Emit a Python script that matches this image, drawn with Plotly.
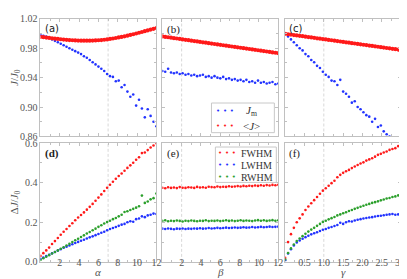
import plotly.graph_objects as go

# ---------------- data ----------------
alpha = [0.0, 0.3, 0.6, 0.9, 1.2, 1.5, 1.8, 2.1, 2.4, 2.7, 3.0, 3.3, 3.6, 3.9, 4.2, 4.5, 4.8, 5.1, 5.4, 5.7,
         6.0, 6.3, 6.6, 6.9, 7.2, 7.5, 7.8, 8.1, 8.4, 8.7, 9.0, 9.3, 9.6, 9.9, 10.2, 10.5, 10.8, 11.1, 11.4, 11.7, 12.0]
beta = [0.0, 0.3, 0.6, 0.9, 1.2, 1.5, 1.8, 2.1, 2.4, 2.7, 3.0, 3.3, 3.6, 3.9, 4.2, 4.5, 4.8, 5.1, 5.4, 5.7,
        6.0, 6.3, 6.6, 6.9, 7.2, 7.5, 7.8, 8.1, 8.4, 8.7, 9.0, 9.3, 9.6, 9.9, 10.2, 10.5, 10.8, 11.1, 11.4, 11.7, 12.0]
gamma = [0.0, 0.075, 0.15, 0.225, 0.3, 0.375, 0.45, 0.525, 0.6, 0.675, 0.75, 0.825, 0.9, 0.975, 1.05, 1.125,
         1.2, 1.275, 1.35, 1.425, 1.5, 1.575, 1.65, 1.725, 1.8, 1.875, 1.95, 2.025, 2.1, 2.175, 2.25, 2.325,
         2.4, 2.475, 2.55, 2.625, 2.7, 2.775, 2.85, 2.925, 3.0]

# (a)
jm_alpha = [0.998, 0.997, 0.996, 0.994, 0.992, 0.990, 0.988, 0.986, 0.984, 0.982, 0.980, 0.978, 0.976, 0.974,
            0.972, 0.969, 0.967, 0.964, 0.961, 0.958, 0.955, 0.952, 0.949, 0.945, 0.942, 0.941, 0.935, 0.936,
            0.927, 0.930, 0.921, 0.914, 0.917, 0.902, 0.910, 0.898, 0.886, 0.897, 0.888, 0.880, 0.874]
jmean_alpha = [0.9955, 0.9950, 0.9945, 0.9940, 0.9935, 0.9930, 0.9926, 0.9922, 0.9918, 0.9914, 0.9911, 0.9908,
               0.9906, 0.9904, 0.9903, 0.9902, 0.9902, 0.9903, 0.9904, 0.9906, 0.9908, 0.9911, 0.9915, 0.9920,
               0.9926, 0.9932, 0.9939, 0.9946, 0.9954, 0.9962, 0.9971, 0.9980, 0.9990, 1.0000, 1.0010, 1.0020,
               1.0031, 1.0042, 1.0053, 1.0064, 1.0075]
# (b)
jm_beta = [0.949, 0.948, 0.952, 0.947, 0.946, 0.947, 0.945, 0.946, 0.944, 0.945, 0.943, 0.944, 0.942, 0.943,
           0.944, 0.941, 0.942, 0.940, 0.942, 0.940, 0.939, 0.941, 0.938, 0.939, 0.937, 0.938, 0.936, 0.937,
           0.935, 0.937, 0.934, 0.935, 0.933, 0.936, 0.933, 0.934, 0.932, 0.933, 0.934, 0.931, 0.932]
jmean_beta = [0.9960, 0.9954, 0.9949, 0.9943, 0.9937, 0.9932, 0.9926, 0.9920, 0.9914, 0.9909, 0.9903, 0.9897,
              0.9892, 0.9886, 0.9880, 0.9875, 0.9869, 0.9863, 0.9857, 0.9852, 0.9846, 0.9840, 0.9835, 0.9829,
              0.9823, 0.9818, 0.9812, 0.9806, 0.9800, 0.9795, 0.9789, 0.9783, 0.9778, 0.9772, 0.9766, 0.9761,
              0.9755, 0.9749, 0.9743, 0.9738, 0.9732]
# (c)
jm_gamma = [1.000, 0.996, 0.992, 0.988, 0.984, 0.980, 0.977, 0.972, 0.969, 0.964, 0.961, 0.956, 0.953, 0.948,
            0.944, 0.941, 0.936, 0.935, 0.930, 0.937, 0.921, 0.918, 0.914, 0.906, 0.908, 0.900, 0.897, 0.893,
            0.889, 0.887, 0.880, 0.884, 0.873, 0.875, 0.867, 0.863, 0.860, 0.855, 0.852, 0.847, 0.843]
jmean_gamma = [0.9996, 0.9990, 0.9985, 0.9979, 0.9974, 0.9968, 0.9963, 0.9957, 0.9952, 0.9946, 0.9941, 0.9935,
               0.9930, 0.9924, 0.9919, 0.9913, 0.9908, 0.9902, 0.9897, 0.9891, 0.9886, 0.9880, 0.9875, 0.9869,
               0.9864, 0.9858, 0.9853, 0.9847, 0.9842, 0.9836, 0.9831, 0.9825, 0.9820, 0.9814, 0.9809, 0.9803,
               0.9798, 0.9792, 0.9787, 0.9781, 0.9776]
# (d)
fwhm_alpha = [0.030, 0.044, 0.058, 0.072, 0.090, 0.105, 0.121, 0.137, 0.152, 0.166, 0.181, 0.195, 0.210, 0.224,
              0.237, 0.250, 0.264, 0.278, 0.293, 0.309, 0.325, 0.341, 0.358, 0.375, 0.390, 0.405, 0.420, 0.434,
              0.447, 0.461, 0.475, 0.488, 0.501, 0.516, 0.529, 0.550, 0.553, 0.565, 0.578, 0.588, 0.600]
lwhm_alpha = [0.015, 0.022, 0.029, 0.036, 0.043, 0.050, 0.057, 0.064, 0.071, 0.077, 0.083, 0.089, 0.095, 0.101,
              0.107, 0.112, 0.118, 0.124, 0.129, 0.135, 0.141, 0.147, 0.152, 0.160, 0.166, 0.171, 0.176, 0.182,
              0.188, 0.192, 0.200, 0.205, 0.203, 0.216, 0.219, 0.230, 0.226, 0.235, 0.238, 0.244, 0.242]
rwhm_alpha = [0.010, 0.018, 0.026, 0.034, 0.042, 0.050, 0.058, 0.066, 0.074, 0.083, 0.091, 0.100, 0.109, 0.117,
              0.126, 0.134, 0.143, 0.151, 0.160, 0.168, 0.177, 0.185, 0.194, 0.201, 0.208, 0.216, 0.222, 0.230,
              0.238, 0.252, 0.256, 0.262, 0.268, 0.274, 0.281, 0.335, 0.298, 0.305, 0.316, 0.322, 0.345]
# (e)
fwhm_beta = [0.375, 0.372, 0.377, 0.374, 0.376, 0.373, 0.378, 0.375, 0.374, 0.377, 0.376, 0.374, 0.379, 0.376,
             0.377, 0.375, 0.380, 0.378, 0.377, 0.381, 0.378, 0.380, 0.379, 0.382, 0.380, 0.381, 0.383, 0.381,
             0.384, 0.382, 0.385, 0.383, 0.386, 0.384, 0.387, 0.385, 0.388, 0.386, 0.389, 0.387, 0.390]
lwhm_beta = [0.168, 0.166, 0.169, 0.167, 0.165, 0.168, 0.167, 0.169, 0.166, 0.168, 0.167, 0.169, 0.168, 0.170,
             0.168, 0.169, 0.171, 0.169, 0.170, 0.172, 0.170, 0.171, 0.173, 0.171, 0.172, 0.174, 0.172, 0.173,
             0.175, 0.173, 0.174, 0.176, 0.174, 0.175, 0.177, 0.175, 0.176, 0.178, 0.176, 0.177, 0.178]
rwhm_beta = [0.207, 0.210, 0.205, 0.208, 0.206, 0.209, 0.207, 0.204, 0.208, 0.206, 0.209, 0.207, 0.205, 0.208,
             0.207, 0.210, 0.206, 0.208, 0.207, 0.209, 0.206, 0.208, 0.210, 0.207, 0.209, 0.206, 0.208, 0.210,
             0.207, 0.209, 0.208, 0.206, 0.209, 0.211, 0.208, 0.210, 0.207, 0.209, 0.211, 0.208, 0.210]
# (f)
fwhm_gamma = [0.020, 0.100, 0.140, 0.172, 0.200, 0.220, 0.240, 0.262, 0.280, 0.296, 0.312, 0.328, 0.344, 0.360,
              0.372, 0.385, 0.398, 0.410, 0.428, 0.440, 0.450, 0.458, 0.465, 0.474, 0.482, 0.490, 0.497, 0.503,
              0.512, 0.518, 0.524, 0.532, 0.541, 0.546, 0.553, 0.558, 0.566, 0.571, 0.575, 0.585, 0.592]
lwhm_gamma = [0.008, 0.042, 0.064, 0.083, 0.098, 0.108, 0.117, 0.125, 0.132, 0.139, 0.145, 0.150, 0.156, 0.162,
              0.166, 0.172, 0.176, 0.181, 0.186, 0.198, 0.192, 0.200, 0.205, 0.204, 0.209, 0.213, 0.216, 0.219,
              0.222, 0.224, 0.226, 0.229, 0.232, 0.233, 0.236, 0.238, 0.240, 0.242, 0.238, 0.240, 0.236]
rwhm_gamma = [0.012, 0.045, 0.068, 0.088, 0.105, 0.118, 0.130, 0.142, 0.153, 0.163, 0.172, 0.182, 0.192, 0.202,
              0.208, 0.215, 0.221, 0.227, 0.235, 0.240, 0.246, 0.251, 0.257, 0.262, 0.268, 0.273, 0.279, 0.284,
              0.289, 0.293, 0.298, 0.302, 0.306, 0.311, 0.315, 0.320, 0.323, 0.328, 0.331, 0.336, 0.340]

ref_lines = [7.0, 2.0, 1.0]   # dashed vertical guides per column
panel_labels = ["(a)", "(b)", "(c)", "(d)", "(e)", "(f)"]
x_titles = ["<i>α</i>", "<i>β</i>", "<i>γ</i>"]
legend_top = [("<i>J</i><sub>m</sub>", "blue"), ("&lt;<i>J</i>&gt;", "red")]
legend_bottom = [("FWHM", "red"), ("LWHM", "blue"), ("RWHM", "green")]

COLORS = {"blue": "#2233ff", "red": "#ff1a1a", "green": "#2ca02c"}
FRAME = "#c0c0c0"
SERIF = "Liberation Serif, DejaVu Serif, serif"

fig = go.Figure()

def add(x, y, idx, color, name, size):
    fig.add_trace(go.Scatter(
        x=x, y=y, mode="markers", name=name, showlegend=False,
        marker=dict(color=COLORS[color], size=size, line=dict(width=0)),
        xaxis="x" if idx == 1 else f"x{idx}", yaxis="y" if idx == 1 else f"y{idx}"))

# top row
add(alpha, jm_alpha, 1, "blue", "Jm", 2.6)
add(alpha, jmean_alpha, 1, "red", "<J>", 4.2)
add(beta, jm_beta, 2, "blue", "Jm", 2.6)
add(beta, jmean_beta, 2, "red", "<J>", 4.2)
add(gamma, jm_gamma, 3, "blue", "Jm", 2.6)
add(gamma, jmean_gamma, 3, "red", "<J>", 4.2)
# bottom row
add(alpha, fwhm_alpha, 4, "red", "FWHM", 2.6)
add(alpha, lwhm_alpha, 4, "blue", "LWHM", 2.6)
add(alpha, rwhm_alpha, 4, "green", "RWHM", 2.6)
add(beta, fwhm_beta, 5, "red", "FWHM", 2.6)
add(beta, lwhm_beta, 5, "blue", "LWHM", 2.6)
add(beta, rwhm_beta, 5, "green", "RWHM", 2.6)
add(gamma, fwhm_gamma, 6, "red", "FWHM", 2.6)
add(gamma, lwhm_gamma, 6, "blue", "LWHM", 2.6)
add(gamma, rwhm_gamma, 6, "green", "RWHM", 2.6)

W, H = 407, 279
xpix = [(32, 150), (156, 274), (281, 399)]
ypix = [(5, 128), (135, 259)]

layout = dict(width=W, height=H, margin=dict(l=0, r=0, t=0, b=0),
              paper_bgcolor="white", plot_bgcolor="white", showlegend=False,
              font=dict(family=SERIF, size=10, color="#444"))

tickfont = dict(family=SERIF, size=10, color="#555")
for i in range(6):
    idx = i + 1
    col = i % 3
    row = i // 3
    xd = [xpix[col][0] / W, xpix[col][1] / W]
    yd = [1 - ypix[row][1] / H, 1 - ypix[row][0] / H]
    xk = "xaxis" if idx == 1 else f"xaxis{idx}"
    yk = "yaxis" if idx == 1 else f"yaxis{idx}"
    if col == 2:
        xr = [0, 3]
        xt = [0.5, 1.0, 1.5, 2.0, 2.5, 3.0]
        xtt = ["0.5", "1.0", "1.5", "2.0", "2.5", "3.0"]
        xm = [0.25, 0.75, 1.25, 1.75, 2.25, 2.75]
    else:
        xr = [0, 12]
        xt = [2, 4, 6, 8, 10, 12]
        xtt = ["2", "4", "6", "8", "10", "12"]
        xm = [1, 3, 5, 7, 9, 11]
    if row == 0:
        yr = [0.86, 1.02]
        yt = [0.86, 0.90, 0.94, 0.98, 1.02]
        ytt = ["0.86", "0.90", "0.94", "0.98", "1.02"]
        ym = [0.88, 0.92, 0.96, 1.00]
    else:
        yr = [0, 0.6]
        yt = [0.0, 0.2, 0.4, 0.6]
        ytt = ["0.0", "0.2", "0.4", "0.6"]
        ym = [0.1, 0.3, 0.5]
    layout[xk] = dict(domain=xd, range=xr, anchor="y" if idx == 1 else f"y{idx}",
                      showline=True, linecolor=FRAME, linewidth=1, mirror="allticks",
                      ticks="inside", ticklen=3, tickcolor=FRAME,
                      tickmode="array", tickvals=xt, ticktext=xtt,
                      minor=dict(ticks="inside", ticklen=2, tickcolor=FRAME, tickmode="array", tickvals=xm),
                      showticklabels=(row == 1), tickfont=tickfont, ticklabelstandoff=-9,
                      showgrid=False, zeroline=False)
    ytitle = None
    if col == 0:
        ytitle = dict(text="<i>J</i>/<i>J</i><sub>0</sub>" if row == 0 else "Δ<i>J</i>/<i>J</i><sub>0</sub>",
                      font=dict(family=SERIF, size=11, color="#555"), standoff=4)
    layout[yk] = dict(domain=yd, range=yr, anchor="x" if idx == 1 else f"x{idx}",
                      showline=True, linecolor=FRAME, linewidth=1, mirror="allticks",
                      ticks="inside", ticklen=3, tickcolor=FRAME,
                      tickmode="array", tickvals=yt, ticktext=ytt,
                      minor=dict(ticks="inside", ticklen=2, tickcolor=FRAME, tickmode="array", tickvals=ym),
                      showticklabels=(col == 0), tickfont=tickfont,
                      showgrid=False, zeroline=False, title=ytitle)

shapes = []
annotations = []
label_fonts = [
    dict(family="DejaVu Sans", size=10, color="#222"),
    dict(family=SERIF, size=11, color="#222"),
    dict(family="DejaVu Sans", size=10, color="#222"),
    dict(family=SERIF, size=11, color="#222", weight="bold"),
    dict(family=SERIF, size=11, color="#222"),
    dict(family=SERIF, size=11, color="#222"),
]
for i in range(6):
    idx = i + 1
    col = i % 3
    xref = "x" if idx == 1 else f"x{idx}"
    yref = "y" if idx == 1 else f"y{idx}"
    shapes.append(dict(type="line", xref=xref, yref=yref + " domain", x0=ref_lines[col], x1=ref_lines[col],
                       y0=0, y1=1, line=dict(color="#d8d8d8", width=1, dash="3px,2px"), layer="below"))
    annotations.append(dict(text=panel_labels[i], xref=xref + " domain", yref=yref + " domain",
                            x=0.02, y=0.985, xanchor="left", yanchor="top", showarrow=False,
                            font=label_fonts[i]))

# x-axis titles under the bottom row
for col in range(3):
    annotations.append(dict(text=x_titles[col], xref="paper", yref="paper",
                            x=(xpix[col][0] + xpix[col][1]) / 2 / W, y=1 - 270 / H,
                            xanchor="center", yanchor="middle", showarrow=False, borderpad=0,
                            font=dict(family=SERIF, size=11, color="#555")))

# hand-drawn legends (matplotlib style: three dots per entry)
def legend_box(x0, y0, x1, y1, entries, row_y, dot_x, text_x, fsize):
    shapes.append(dict(type="rect", xref="paper", yref="paper", x0=x0 / W, x1=x1 / W,
                       y0=1 - y1 / H, y1=1 - y0 / H, line=dict(color="#c8c8c8", width=1),
                       fillcolor="white", layer="above"))
    for (label, color), ry in zip(entries, row_y):
        annotations.append(dict(text="•\u2009\u2009•\u2009\u2009•", xref="paper", yref="paper",
                                x=dot_x / W, y=1 - ry / H, xanchor="center", yanchor="middle",
                                showarrow=False, font=dict(family="DejaVu Sans", size=7, color=COLORS[color])))
        annotations.append(dict(text=label, xref="paper", yref="paper",
                                x=text_x / W, y=1 - ry / H, xanchor="center", yanchor="middle",
                                showarrow=False, font=dict(family=SERIF, size=fsize, color="#333")))

legend_box(206, 93, 270, 124, legend_top, [101.5, 117], 220, 247, 11)
legend_box(210, 139, 272, 176, legend_bottom, [145.5, 158, 170.5], 222, 252, 10)

layout["shapes"] = shapes
layout["annotations"] = annotations

fig.update_layout(**layout)
fig.write_html("out.html")
